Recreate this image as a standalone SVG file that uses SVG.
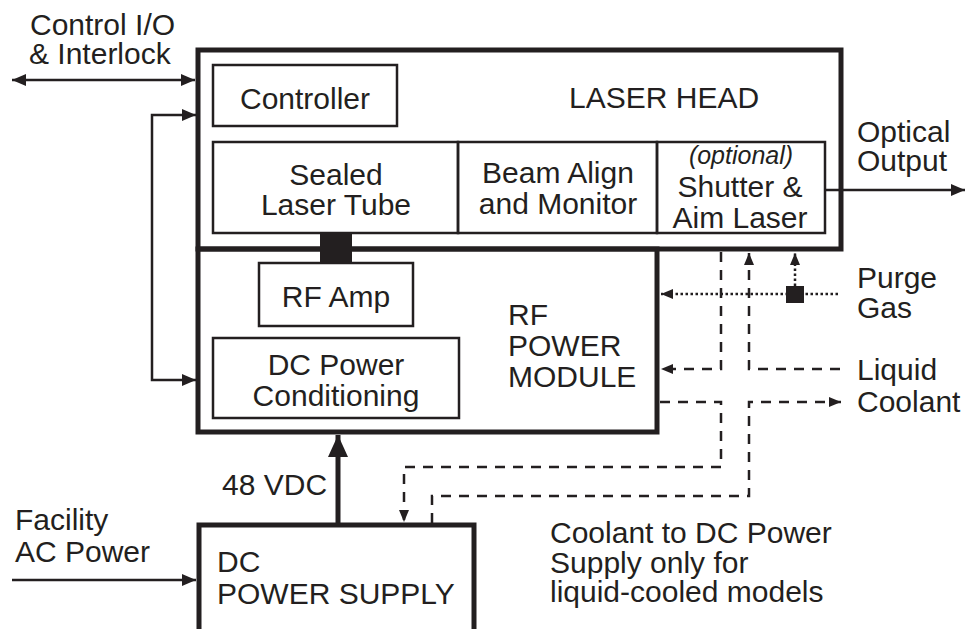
<svg xmlns="http://www.w3.org/2000/svg" width="966" height="629" viewBox="0 0 966 629">
<style>
text{font-family:"Liberation Sans",Arial,sans-serif;font-size:30px;fill:#231f20}
.c{text-anchor:middle}
.thick{fill:none;stroke:#231f20;stroke-width:5}
.thin{fill:none;stroke:#231f20;stroke-width:2.5}
.ln{fill:none;stroke:#231f20;stroke-width:2.5}
.dash{fill:none;stroke:#231f20;stroke-width:2.5;stroke-dasharray:10 8}
.dot{fill:none;stroke:#231f20;stroke-width:2.5;stroke-dasharray:2.5 2.5}
</style>
<defs>
<marker id="arr" viewBox="0 0 14 12" refX="14" refY="6" markerWidth="14" markerHeight="12" markerUnits="userSpaceOnUse" orient="auto-start-reverse">
<path d="M0,0 L14,6 L0,12 z" fill="#231f20"/>
</marker>
<marker id="arrs" viewBox="0 0 12 10" refX="12" refY="5" markerWidth="12" markerHeight="10" markerUnits="userSpaceOnUse" orient="auto">
<path d="M0,0 L12,5 L0,10 z" fill="#231f20"/>
</marker>
<marker id="arrb" viewBox="0 0 22 20" refX="22" refY="10" markerWidth="22" markerHeight="20" markerUnits="userSpaceOnUse" orient="auto">
<path d="M0,0 L22,10 L0,20 z" fill="#231f20"/>
</marker>
</defs>

<g id="laser-head">
<rect class="thick" x="198" y="50" width="643" height="199"/>
<text x="569" y="108">LASER HEAD</text>
</g>
<g id="controller">
<rect class="thin" x="213" y="65" width="184" height="61"/>
<text class="c" x="305" y="109">Controller</text>
</g>
<g id="sealed-laser-tube">
<rect class="thin" x="213" y="142" width="245" height="91"/>
<text class="c" x="336" y="185">Sealed</text>
<text class="c" x="336" y="215">Laser Tube</text>
</g>
<g id="beam-align">
<rect class="thin" x="458" y="142" width="199" height="91"/>
<text class="c" x="558" y="183">Beam Align</text>
<text class="c" x="558" y="214">and Monitor</text>
</g>
<g id="shutter">
<rect class="thin" x="657" y="142" width="168" height="91"/>
<text class="c" x="741" y="164" style="font-size:25px;font-style:italic">(optional)</text>
<text class="c" x="740" y="197">Shutter &amp;</text>
<text class="c" x="740" y="228">Aim Laser</text>
</g>
<g id="rf-power-module">
<rect class="thick" x="198" y="249" width="459" height="183"/>
<text x="508" y="325">RF</text>
<text x="508" y="356">POWER</text>
<text x="508" y="387">MODULE</text>
</g>
<g id="rf-amp">
<rect class="thin" x="259" y="263" width="154" height="63"/>
<text class="c" x="336" y="307">RF Amp</text>
</g>
<g id="dc-power-conditioning">
<rect class="thin" x="213" y="338" width="246" height="80"/>
<text class="c" x="336" y="375">DC Power</text>
<text class="c" x="336" y="406">Conditioning</text>
</g>
<g id="dc-power-supply">
<rect class="thick" x="199" y="525" width="275" height="130"/>
<text x="217" y="572">DC</text>
<text x="217" y="604">POWER SUPPLY</text>
</g>
<g id="labels">
<text x="30" y="35">Control I/O</text>
<text x="29" y="64">&amp; Interlock</text>
<text x="857" y="142">Optical</text>
<text x="857" y="171">Output</text>
<text x="857" y="288">Purge</text>
<text x="857" y="318">Gas</text>
<text x="857" y="380">Liquid</text>
<text x="857" y="412">Coolant</text>
<text x="222" y="495">48 VDC</text>
<text x="15" y="530">Facility</text>
<text x="15" y="562">AC Power</text>
<text x="550" y="543">Coolant to DC Power</text>
<text x="550" y="573">Supply only for</text>
<text x="550" y="602">liquid-cooled models</text>
</g>

<g id="connectors">
<rect x="320" y="233" width="32" height="30" fill="#231f20"/>
<path class="ln" d="M12,80 H195" marker-start="url(#arr)" marker-end="url(#arr)"/>
<path class="ln" d="M196,115 H152 V380 H196" marker-start="url(#arr)" marker-end="url(#arr)"/>
<path class="ln" d="M825,190 H965" marker-end="url(#arr)"/>
<path class="ln" d="M12,580 H196" marker-end="url(#arr)"/>
<path fill="none" stroke="#231f20" stroke-width="5" d="M338,523 V435" marker-end="url(#arrb)"/>
<path class="dot" d="M838,294 H661" marker-end="url(#arrs)"/>
<rect x="786" y="286" width="18" height="17" fill="#231f20"/>
<path class="dot" d="M795,286 V253" marker-end="url(#arrs)"/>
<path class="dash" d="M721,252 V369 H661" marker-end="url(#arrs)"/>
<path class="dash" d="M840,369 H749 V253" marker-end="url(#arrs)"/>
<path class="dash" d="M660,402 H721 V467 H404 V522" marker-end="url(#arrs)"/>
<path class="dash" d="M432,523 V496 H749 V402 H841" marker-end="url(#arrs)"/>
</g>
</svg>
